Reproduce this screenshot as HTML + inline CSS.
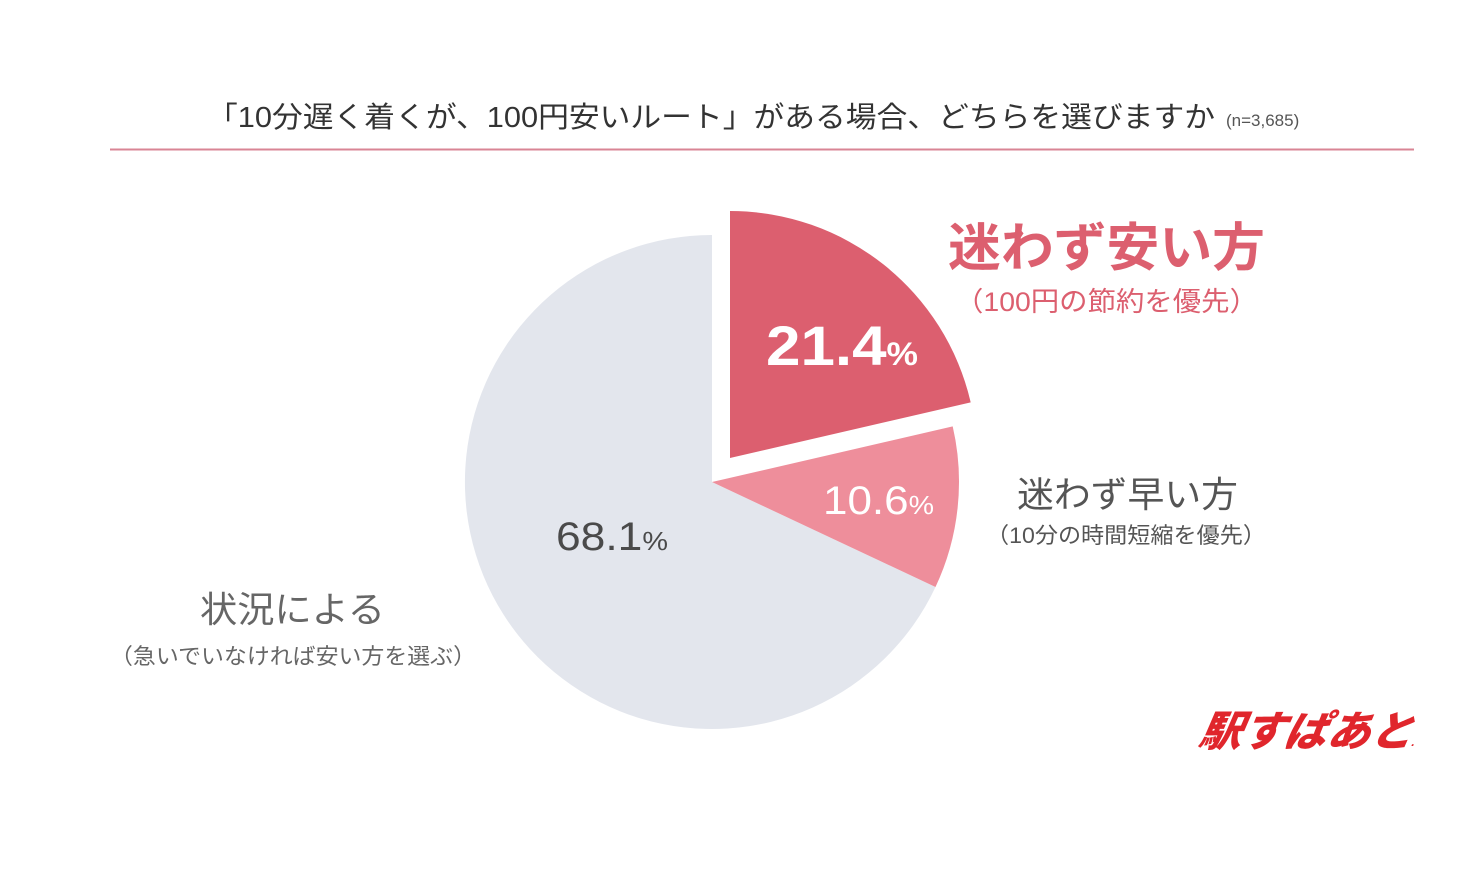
<!DOCTYPE html>
<html><head><meta charset="utf-8"><style>
body{margin:0;background:#fff;}
svg{display:block}
text{font-family:"Liberation Sans","Noto Sans CJK JP",sans-serif;}
</style></head><body>
<svg width="1472" height="876" viewBox="0 0 1472 876" xmlns="http://www.w3.org/2000/svg">
<rect width="1472" height="876" fill="#fff"/>
<text x="207" y="127" font-size="29" fill="#333" textLength="1008" lengthAdjust="spacingAndGlyphs">「10分遅く着くが、100円安いルート」がある場合、どちらを選びますか</text>
<text x="1226" y="126" font-size="17" fill="#555">(n=3,685)</text>
<line x1="110" y1="149.5" x2="1414" y2="149.5" stroke="#d98595" stroke-width="2"/>
<path d="M712 482 L935.5 587 A247 247 0 1 1 712 235 Z" fill="#e3e6ed"/>
<path d="M712 482 L952.7 426.4 A247 247 0 0 1 935.5 587 Z" fill="#ee8e9b"/>
<path d="M730 458 L730 211 A247 247 0 0 1 970.7 402.4 Z" fill="#dc5f6f"/>
<text x="766" y="365" font-size="56" fill="#fff" font-weight="bold" textLength="152" lengthAdjust="spacingAndGlyphs">21.4<tspan font-size="32">%</tspan></text>
<text x="823" y="514" font-size="40" fill="#fff" textLength="111" lengthAdjust="spacingAndGlyphs">10.6<tspan font-size="26">%</tspan></text>
<text x="556" y="550" font-size="40" fill="#4a4a4a" textLength="112" lengthAdjust="spacingAndGlyphs">68.1<tspan font-size="26">%</tspan></text>
<text x="948" y="266" font-size="52" fill="#dc5f6f" font-weight="bold" textLength="317" lengthAdjust="spacingAndGlyphs">迷わず安い方</text>
<text x="955" y="311" font-size="27" fill="#dc5f6f" textLength="303" lengthAdjust="spacingAndGlyphs">（100円の節約を優先）</text>
<text x="1017" y="507" font-size="36" fill="#555" textLength="221" lengthAdjust="spacingAndGlyphs">迷わず早い方</text>
<text x="986" y="543" font-size="22" fill="#555" textLength="280" lengthAdjust="spacingAndGlyphs">（10分の時間短縮を優先）</text>
<text x="200" y="622" font-size="36" fill="#666" textLength="185" lengthAdjust="spacingAndGlyphs">状況による</text>
<text x="110" y="664" font-size="22" fill="#666" textLength="366" lengthAdjust="spacingAndGlyphs">（急いでいなければ安い方を選ぶ）</text>
<text x="1198" y="746" font-size="42" fill="#e0262c" font-weight="900" font-style="italic" transform="skewX(-10) translate(131,0)" textLength="217" lengthAdjust="spacingAndGlyphs">駅すぱあと<tspan font-size="12">.</tspan></text>
</svg>
</body></html>
